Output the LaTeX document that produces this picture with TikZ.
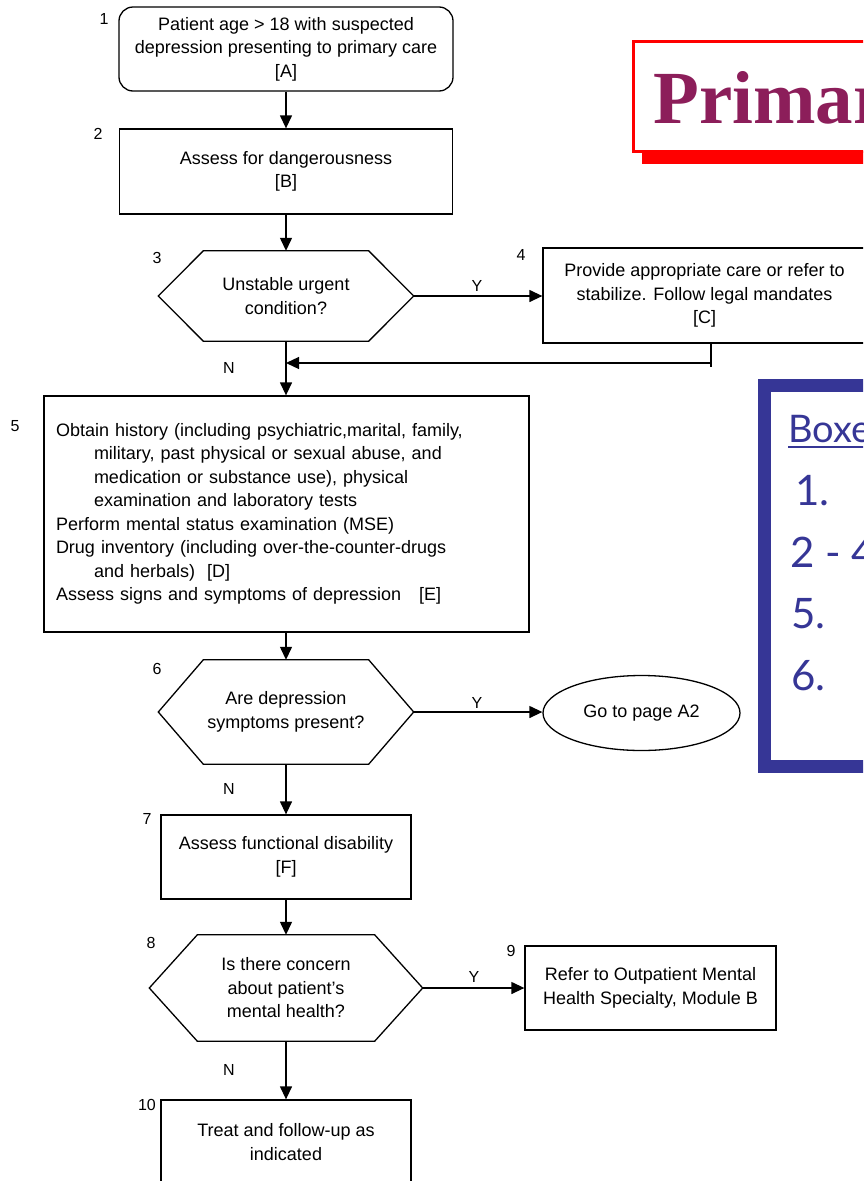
\documentclass[tikz,border=0pt]{standalone}
\usepackage{fontspec}
\setmainfont{Liberation Sans}
\newfontfamily\titlefont{Liberation Serif}
\newfontfamily\keyfont{Lato}
\usetikzlibrary{arrows.meta,shapes.geometric}

\definecolor{titlered}{RGB}{140,30,90}
\definecolor{keyblue}{RGB}{54,54,150}

% hexagonal decision outline around a named node; #2 = depth of the side points
\newcommand\hexoutline[2]{%
  \draw[line width=1.3pt] (#1.west) -- ([xshift=#2]#1.north west) -- ([xshift=-#2]#1.north east)
    -- (#1.east) -- ([xshift=-#2]#1.south east) -- ([xshift=#2]#1.south west) -- cycle;}

\begin{document}
\begin{tikzpicture}[x=1pt,y=-1pt,
  every node/.style={font=\fontsize{18}{23.5}\selectfont},
  box/.style={draw, line width=1.3pt, align=center, inner sep=0pt},
  decision/.style={align=center, inner sep=0pt},
  num/.style={font=\fontsize{16}{16}\selectfont, inner sep=0pt},
  yn/.style={font=\fontsize{16}{16}\selectfont, inner sep=0pt},
  flow/.style={line width=1.3pt, -{Triangle[length=13pt,width=12pt]}},
  keytext/.style={anchor=base west, inner sep=0pt, text=keyblue, font=\keyfont\fontsize{42}{42}\selectfont},
]
\useasboundingbox (0,0) rectangle (863,1181);
\clip (0,0) rectangle (863,1181);

% ---- flowchart nodes ----
\node[box, rounded corners=14pt, minimum width=334pt, minimum height=84pt] (b1) at (286,49)
  {Patient age > 18 with suspected\\depression presenting to primary care\\{}[A]};
\node[box, minimum width=333pt, minimum height=85pt] (b2) at (286,171.5)
  {Assess for dangerousness\\{}[B]};
\node[decision, minimum width=255pt, minimum height=90pt] (h3) at (286,296)
  {Unstable urgent\\condition?};
\hexoutline{h3}{45pt}
\node[box, minimum width=323pt, minimum height=95pt] (b4) at (704.5,295.5)
  {Provide appropriate care or refer to\\stabilize. Follow legal mandates\\{}[C]};
\node[box, minimum width=485pt, minimum height=236pt, text width=461pt, align=left] (b5) at (286.5,514)
  {Obtain history (including psychiatric,marital, family,\\
   \hspace*{38pt}military, past physical or sexual abuse, and\\
   \hspace*{38pt}medication or substance use), physical\\
   \hspace*{38pt}examination and laboratory tests\\
   Perform mental status examination (MSE)\\
   Drug inventory (including over-the-counter-drugs\\
   \hspace*{38pt}and herbals)\ \ [D]\\
   Assess signs and symptoms of depression\ \ \ [E]};
\node[decision, minimum width=255pt, minimum height=104pt] (h6) at (286,712)
  {Are depression\\symptoms present?};
\hexoutline{h6}{45pt}
\node[draw, ellipse, line width=1.3pt, minimum width=197pt, minimum height=75pt, inner sep=0pt] (e6) at (641.5,713)
  {Go to page A2};
\node[box, minimum width=250pt, minimum height=84pt] (b7) at (286,857)
  {Assess functional disability\\{}[F]};
\node[decision, minimum width=273pt, minimum height=106pt] (h8) at (286,988)
  {Is there concern\\about patient's\\mental health?};
\hexoutline{h8}{48pt}
\node[box, minimum width=251pt, minimum height=84pt] (b9) at (650.5,988)
  {Refer to Outpatient Mental\\Health Specialty, Module B};
\node[box, minimum width=250pt, minimum height=84pt] (b10) at (286,1142)
  {Treat and follow-up as\\indicated};

% ---- step numbers ----
\node[num] (n1) at (104,19) {1};
\node[num] (n2) at (98,134) {2};
\node[num] (n3) at (157,258) {3};
\node[num] (n4) at (521,255) {4};
\node[num] (n5) at (15,426) {5};
\node[num] (n6) at (157,669) {6};
\node[num] (n7) at (147,819) {7};
\node[num] (n8) at (151,943) {8};
\node[num] (n9) at (511,951) {9};
\node[num] (n10) at (147,1105) {10};

% ---- connectors ----
\draw[flow] (b1.south) -- (b1.south |- b2.north);
\draw[flow] (b2.south) -- (b2.south |- h3.north);
\draw[flow] (h3.east) -- (h3.east -| b4.west);
\node[yn] (y3) at (477,286) {Y};
\coordinate (j4) at (711,363);
\draw[line width=1.3pt] (b4.south -| j4) -- ([yshift=-4pt]j4);
\draw[flow] (j4) -- (j4 -| h3.south);
\draw[flow] (h3.south) -- (h3.south |- b5.north);
\node[yn] (n3n) at (229,368) {N};
\draw[flow] (b5.south -| h6.north) -- (h6.north);
\draw[flow] (h6.east) -- (h6.east -| e6.west);
\node[yn] (y6) at (477,703) {Y};
\draw[flow] (h6.south) -- (h6.south |- b7.north);
\node[yn] (n6n) at (229,789) {N};
\draw[flow] (b7.south) -- (b7.south |- h8.north);
\draw[flow] (h8.east) -- (h8.east -| b9.west);
\node[yn] (y8) at (474,977) {Y};
\draw[flow] (h8.south) -- (h8.south |- b10.north);
\node[yn] (n8n) at (229,1070) {N};

% ---- title banner ----
\fill[red] (642,151) rectangle (890,164);
\draw[red, line width=3pt] (633.5,41.5) rectangle (885,151.5);
\node[anchor=base west, inner sep=0pt, text=titlered,
      font=\titlefont\bfseries\fontsize{75}{75}\selectfont] (title) at (653,123) {Primary Care};

% ---- key panel ----
\draw[keyblue, line width=13pt] (764.5,385.5) rectangle (900,766.5);
\node[keytext, font=\keyfont\fontsize{38}{38}\selectfont] (keyhead) at (788,442) {Boxes};
\draw[keyblue, line width=2.5pt] ([yshift=-5pt]keyhead.base west) -- ++(200,0);
\node[keytext] (k1) at (795,505) {1.};
\node[keytext] (k2) at (790,567) {2 - 4};
\node[keytext] (k3) at (791,628) {5.};
\node[keytext] (k4) at (791,690) {6.};
\end{tikzpicture}
\end{document}
